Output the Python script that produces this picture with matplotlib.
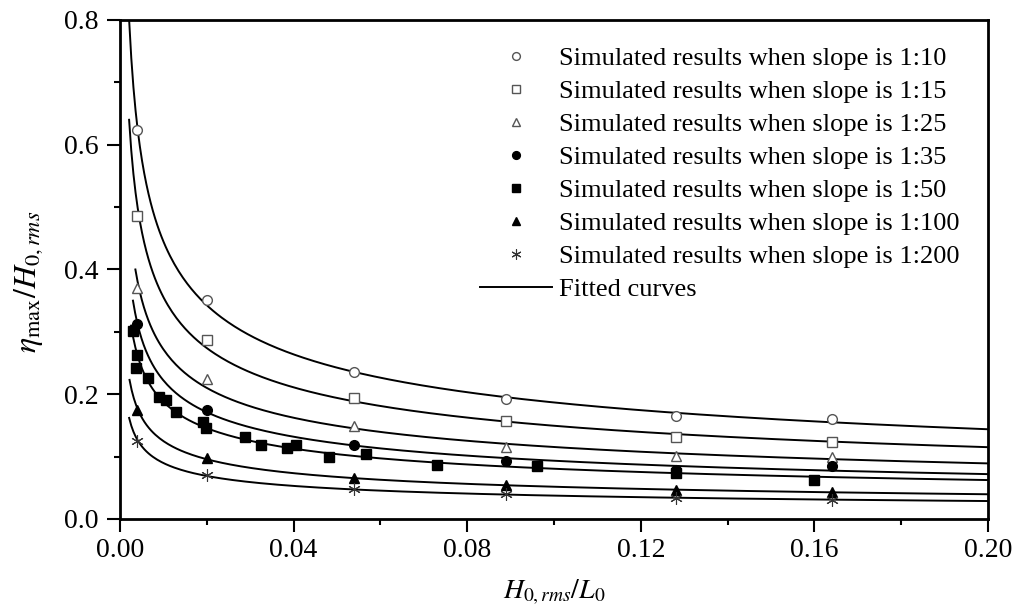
import numpy as np
import matplotlib
matplotlib.use("Agg")
import matplotlib.pyplot as plt

plt.rcParams['font.family'] = ['Liberation Serif', 'DejaVu Serif']
plt.rcParams['mathtext.fontset'] = 'stix'

# data
x_main = [0.004, 0.020, 0.054, 0.089, 0.128, 0.164]
y_110 = [0.623, 0.351, 0.236, 0.192, 0.165, 0.160]
y_115 = [0.486, 0.287, 0.194, 0.157, 0.131, 0.123]
y_125 = [0.370, 0.224, 0.149, 0.115, 0.101, 0.099]
y_135 = [0.313, 0.175, 0.119, 0.093, 0.079, 0.085]
y_1100 = [0.175, 0.098, 0.066, 0.054, 0.046, 0.043]
y_1200 = [0.125, 0.070, 0.048, 0.040, 0.034, 0.030]

x_150 = [0.0030, 0.0039, 0.0037, 0.0065, 0.0090, 0.0106, 0.0129, 0.0191, 0.0198,
         0.0288, 0.0325, 0.0385, 0.0406, 0.0482, 0.0567, 0.0730, 0.0961, 0.128, 0.160]
y_150 = [0.301, 0.263, 0.242, 0.226, 0.196, 0.191, 0.171, 0.155, 0.146,
         0.131, 0.119, 0.114, 0.119, 0.099, 0.104, 0.087, 0.085, 0.074, 0.063]

labels = ['1:10', '1:15', '1:25', '1:35', '1:50', '1:100', '1:200']
# height where each fitted curve begins on the left
curve_top = [0.80, 0.64, 0.40, 0.35, 0.31, 0.223, 0.162]

series = [
    (x_main, y_110, dict(marker='o', mfc='white', mec='#555555', ms=7)),
    (x_main, y_115, dict(marker='s', mfc='white', mec='#555555', ms=6.5)),
    (x_main, y_125, dict(marker='^', mfc='white', mec='#555555', ms=7.5)),
    (x_main, y_135, dict(marker='o', mfc='black', mec='black', ms=7)),
    (x_150, y_150, dict(marker='s', mfc='black', mec='black', ms=6.5)),
    (x_main, y_1100, dict(marker='^', mfc='black', mec='black', ms=7.5)),
    (x_main, y_1200, dict(marker=(6, 2, 0), mfc='black', mec='#333333', ms=9, mew=0.8)),
]

fig = plt.figure(figsize=(10.15, 6.11), dpi=100)
ax = fig.add_axes([0.1182, 0.1506, 0.8552, 0.8167])

for (xs, ys, st), top in zip(series, curve_top):
    # power-law fit y = a*x^b, as the fitted curves in the figure
    b, lna = np.polyfit(np.log(xs), np.log(ys), 1)
    x0 = max(0.0018, np.exp((np.log(top) - lna) / b))
    xf = np.linspace(x0, 0.2, 400)
    ax.plot(xf, np.exp(lna) * xf ** b, color='black', lw=1.4, zorder=2)

handles = []
for (xs, ys, st), lab in zip(series, labels):
    ax.plot(xs, ys, ls='none', zorder=3, **st)
    hst = dict(st)
    hst['ms'] = st['ms'] * 0.8
    h, = ax.plot([], [], ls='none', **hst)
    h.set_label('Simulated results when slope is ' + lab)
    handles.append(h)
hl, = ax.plot([], [], color='black', lw=1.4, label='Fitted curves')
handles.append(hl)

ax.legend(handles=handles, loc='upper left', bbox_to_anchor=(0.4147, 0.946),
          frameon=False, fontsize=19, handlelength=2.73, handletextpad=0.27,
          labelspacing=0.36, borderaxespad=0, borderpad=0)

ax.set_xlim(0, 0.2)
ax.set_ylim(0, 0.8)
ax.set_xticks([0, 0.04, 0.08, 0.12, 0.16, 0.20])
ax.set_xticklabels(['0.00', '0.04', '0.08', '0.12', '0.16', '0.20'])
ax.set_xticks(np.arange(0.02, 0.2, 0.04), minor=True)
ax.set_yticks([0, 0.2, 0.4, 0.6, 0.8])
ax.set_yticklabels(['0.0', '0.2', '0.4', '0.6', '0.8'])
ax.set_yticks([0.1, 0.3, 0.5, 0.7], minor=True)
ax.tick_params(which='both', direction='out', width=1.5, labelsize=20, top=False, right=False)
ax.tick_params(which='major', length=9.5)
ax.tick_params(which='minor', length=4.5)
ax.tick_params(axis='x', which='major', pad=4)
ax.tick_params(axis='y', which='major', pad=6)
for s in ax.spines.values():
    s.set_linewidth(2.0)

ax.set_xlabel(r'$H_{0,rms}/L_0$', fontsize=20)
ax.set_ylabel(r'$\eta_{\mathrm{max}}/H_{0,rms}$', fontsize=23)
ax.xaxis.set_label_coords(0.5, -0.118)
ax.yaxis.set_label_coords(-0.086, 0.475)

fig.savefig('out.png', dpi=100)
